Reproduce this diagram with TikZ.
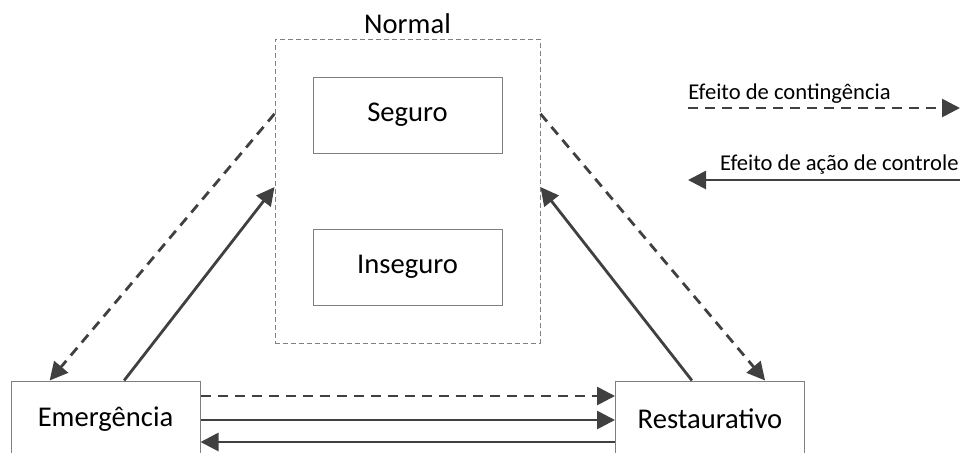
\documentclass[tikz,border=0pt]{standalone}
\usepackage{fontspec}
\setmainfont{Carlito}
\usetikzlibrary{%
  arrows.meta,%
  positioning,%
  calc%
}
\definecolor{linegray}{HTML}{404040}
\definecolor{boxgray}{HTML}{7F7F7F}

\begin{document}
\begin{tikzpicture}[
  x=0.5pt, y=-0.5pt,
  font=\fontsize{14.3}{17}\selectfont,
  >={Triangle[length=9pt,width=9pt]},
  statebox/.style={rectangle, minimum width=94.5pt, minimum height=38pt, inner sep=0pt, draw=boxgray, line width=0.5pt},
  groupbox/.style={rectangle, minimum width=132.5pt, minimum height=152pt, inner sep=0pt, draw=boxgray, line width=0.5pt, dash pattern=on 2.5pt off 1.5pt},
  effect/.style={draw=linegray, line width=1.4pt, ->},
  contingency/.style={effect, dash pattern=on 5pt off 3.5pt},
  legendtext/.style={inner sep=0pt, font=\fontsize{11.3}{13}\selectfont}
]

\useasboundingbox (0,0) rectangle (965,452);

% estados
\node[groupbox] (normal) at (407.5,191) {};
\node[anchor=base, inner sep=0pt] (normallbl) at (407.5,33) {Normal};
\node[statebox] (seguro) at (407.5,115) {Seguro};
\node[statebox] (inseguro) at (407.5,267) {Inseguro};
\node[statebox] (emerg) at (105.5,419) {Emergência};
\node[statebox] (restaur) at (710,419) {Restaurativo};

% pontos de ligacao
\coordinate (nwa) at ($(normal.north west)!0.247!(normal.south west)$);
\coordinate (nwb) at ($(normal.north west)!0.487!(normal.south west)$);
\coordinate (nea) at ($(normal.north east)!0.247!(normal.south east)$);
\coordinate (neb) at ($(normal.north east)!0.487!(normal.south east)$);
\coordinate (ema) at ($(emerg.north west)!0.206!(emerg.north east)$);
\coordinate (emb) at ($(emerg.north west)!0.598!(emerg.north east)$);
\coordinate (rea) at ($(restaur.north west)!0.79!(restaur.north east)$);
\coordinate (reb) at ($(restaur.north west)!0.405!(restaur.north east)$);

\draw[contingency] (nwa) -- (ema);
\draw[effect] (emb) -- (nwb);
\draw[contingency] (nea) -- (rea);
\draw[effect] (reb) -- (neb);

\draw[contingency] ([yshift=11.5pt]emerg.east) -- ([yshift=11.5pt]restaur.west);
\draw[effect] ([yshift=-0.5pt]emerg.east) -- ([yshift=-0.5pt]restaur.west);
\draw[effect] ([yshift=-11.5pt]restaur.west) -- ([yshift=-11.5pt]emerg.east);

% legenda
\node[legendtext, anchor=base west] (lgcont) at (688,99) {Efeito de contingência};
\node[legendtext, anchor=base east] (lgctrl) at (959,170.5) {Efeito de ação de controle};
\coordinate (lgca) at (688,108);
\coordinate (lgcb) at (960,108);
\coordinate (lgka) at (960,180);
\coordinate (lgkb) at (688,180);
\draw[contingency] (lgca) -- (lgcb);
\draw[effect] (lgka) -- (lgkb);

\end{tikzpicture}
\end{document}
